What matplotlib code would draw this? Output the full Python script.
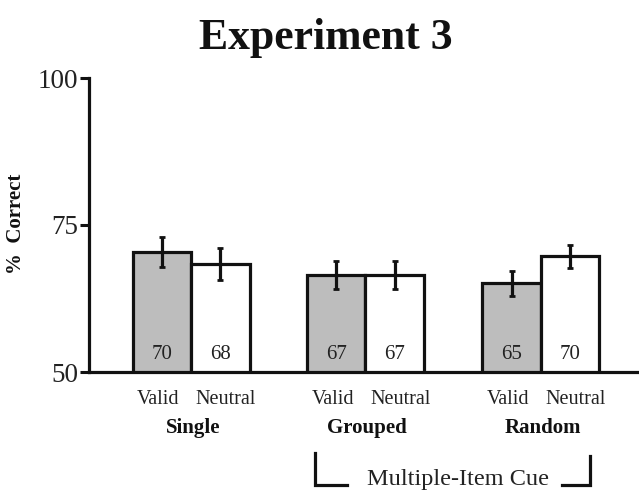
import numpy as np
import matplotlib
matplotlib.use("Agg")
import matplotlib.pyplot as plt

# data
groups = ["Single", "Grouped", "Random"]
conditions = ["Valid", "Neutral"]
valid_means = [70.4, 66.5, 65.1]
neutral_means = [68.4, 66.5, 69.7]
valid_err = [2.6, 2.3, 2.15]
neutral_err = [2.7, 2.3, 1.95]
valid_labels = ["70", "67", "65"]
neutral_labels = ["68", "67", "70"]
yticks = [50, 75, 100]
title = "Experiment 3"
ylabel = "%  Correct"
bracket_label = "Multiple-Item Cue"

SERIF = ["Liberation Serif", "DejaVu Serif"]
plt.rcParams["font.family"] = SERIF

fig = plt.figure(figsize=(6.39, 4.95), dpi=100)
ax = fig.add_axes([89 / 639, 1 - 372 / 495, 550 / 639, 294 / 495])

gx = np.array([0.0, 2.98, 5.98])
w = 1.0
lw = 2.3

ax.bar(gx - w / 2, valid_means, width=w, bottom=0, color="#bdbdbd",
       edgecolor="#111111", linewidth=lw, zorder=2)
ax.bar(gx + w / 2, neutral_means, width=w, color="white",
       edgecolor="#111111", linewidth=lw, zorder=2)
ax.errorbar(gx - w / 2, valid_means, yerr=valid_err, fmt="none",
            ecolor="#111111", elinewidth=2.3, capsize=2.5, capthick=2, zorder=3)
ax.errorbar(gx + w / 2, neutral_means, yerr=neutral_err, fmt="none",
            ecolor="#111111", elinewidth=2.3, capsize=2.5, capthick=2, zorder=3)

for x, v, n in zip(gx, valid_labels, neutral_labels):
    ax.text(x - w / 2, 52.9, v, ha="center", va="center", fontsize=15,
            color="#222222", zorder=4)
    ax.text(x + w / 2, 52.9, n, ha="center", va="center", fontsize=15,
            color="#222222", zorder=4)

trans = ax.get_xaxis_transform()
for x, g in zip(gx, groups):
    ax.text(x - w / 2 - 0.06, -0.092, conditions[0], transform=trans,
            ha="center", va="center", fontsize=14.5, color="#222222")
    ax.text(x + w / 2 + 0.1, -0.092, conditions[1], transform=trans,
            ha="center", va="center", fontsize=14.5, color="#222222")
    ax.text(x + 0.03, -0.19, g, transform=trans, ha="center", va="center",
            fontsize=15, fontweight="bold", color="#111111")

# bracket under the multiple-item cue groups
ax.plot([2.12, 2.12, 2.67], [-0.2755, -0.384, -0.384], transform=trans,
        color="#111111", lw=2.3, clip_on=False, solid_joinstyle="miter")
ax.plot([6.34, 6.82, 6.82], [-0.384, -0.384, -0.285], transform=trans,
        color="#111111", lw=2.3, clip_on=False, solid_joinstyle="miter")
ax.text(4.56, -0.367, bracket_label, transform=trans, ha="center",
        va="center", fontsize=17.5, color="#222222")

ax.set_xlim((89 - 191) / 58.5, (639 - 191) / 58.5)
ax.set_ylim(50, 100)
ax.set_yticks(yticks)
ax.set_xticks([])
ax.tick_params(axis="y", length=6.5, width=2.2, pad=1, labelsize=19.5,
               labelcolor="#222222", color="#111111")
for side in ["top", "right"]:
    ax.spines[side].set_visible(False)
for side in ["left", "bottom"]:
    ax.spines[side].set_linewidth(2.3)
    ax.spines[side].set_color("#111111")
    ax.spines[side].set_zorder(5)

fig.text(16 / 639, 1 - 224 / 495, ylabel, rotation=90, ha="center",
         va="center", fontsize=15, fontweight="bold", color="#111111")
fig.text(326 / 639, 1 - 38 / 495, title, ha="center", va="center",
         fontsize=31.5, fontweight="bold", color="#111111")

fig.savefig("out.png", dpi=100)
